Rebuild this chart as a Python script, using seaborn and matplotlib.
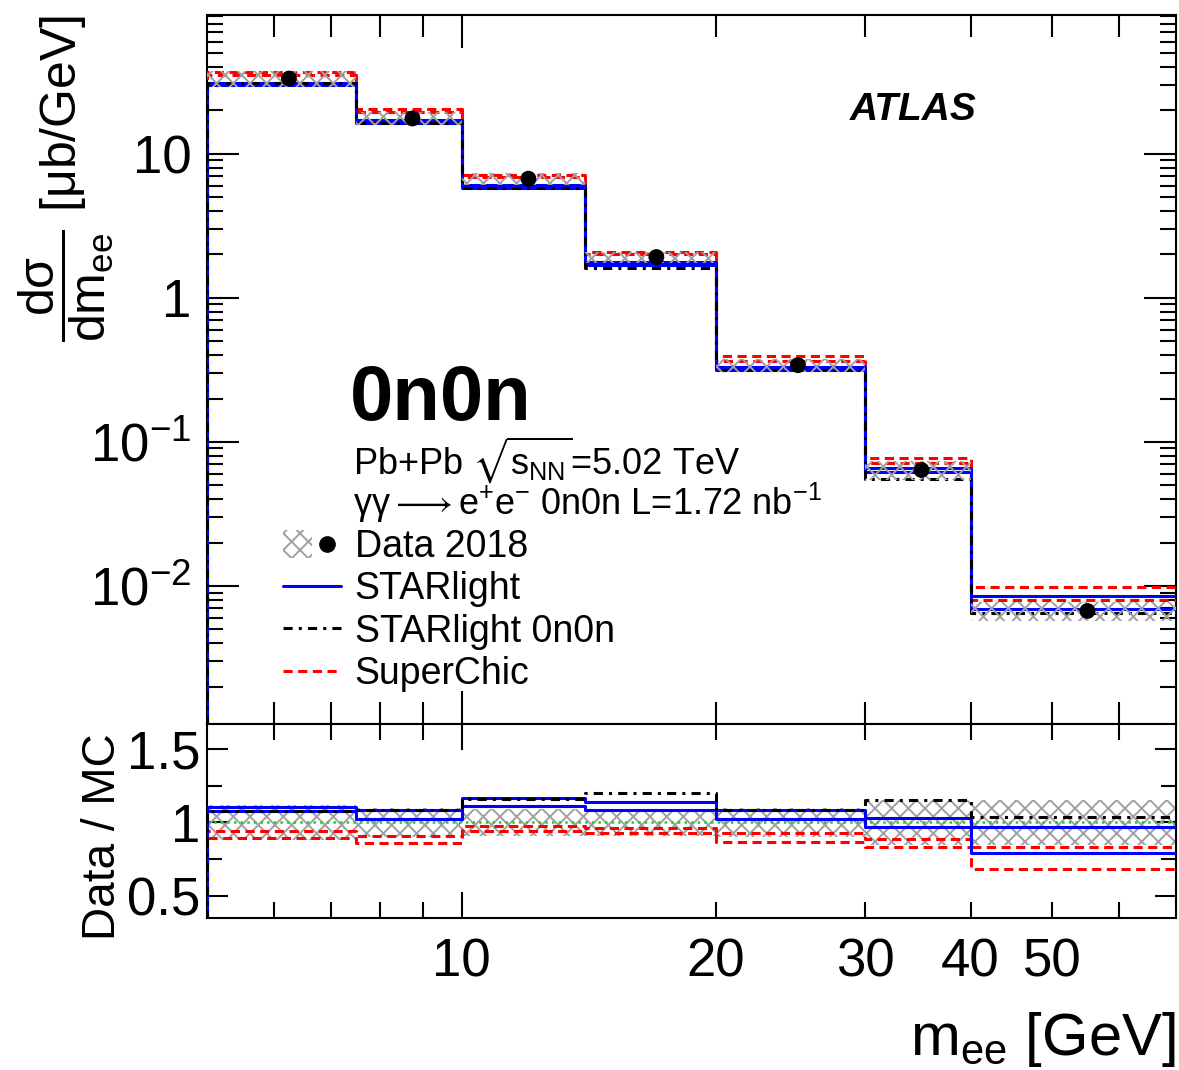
import numpy as np
import matplotlib
matplotlib.use("Agg")
import matplotlib.pyplot as plt
import seaborn as sns
from matplotlib.ticker import FixedLocator, FuncFormatter, NullFormatter
from matplotlib.patches import Patch
from matplotlib.lines import Line2D
from matplotlib.legend_handler import HandlerTuple

# ---------------- data ----------------
bin_edges = [5, 7.5, 10, 14, 20, 30, 40, 70]
x_tick_labels = [10, 20, 30, 40, 50]
data_xsec = [33.3, 17.6, 6.72, 1.92, 0.341, 0.0638, 0.0067]          # ub/GeV
data_rel_unc = [0.12, 0.10, 0.09, 0.09, 0.10, 0.15, 0.15]
starlight_low = [30.1, 16.27, 5.77, 1.69, 0.314, 0.0619, 0.00692]
starlight_high = [30.8, 17.2, 6.03, 1.77, 0.333, 0.0656, 0.00848]
starlight_0n0n = [30.8, 16.27, 5.79, 1.60, 0.314, 0.0555, 0.00644]
superchic_low = [35.3, 19.4, 6.88, 2.00, 0.367, 0.0719, 0.00801]
superchic_high = [37.2, 20.4, 7.13, 2.07, 0.393, 0.0767, 0.00985]

sns.set_style("ticks")
plt.rcParams["font.family"] = ["Liberation Sans", "DejaVu Sans"]
plt.rcParams["mathtext.fontset"] = "custom"
plt.rcParams["mathtext.rm"] = "Liberation Sans"
plt.rcParams["mathtext.it"] = "Liberation Sans"
plt.rcParams["mathtext.bf"] = "Liberation Sans:bold"
plt.rcParams["mathtext.fallback"] = "stixsans"
plt.rcParams["hatch.linewidth"] = 1.4
plt.rcParams["axes.linewidth"] = 1.5
for k in ("text.color", "axes.labelcolor", "xtick.color", "ytick.color",
          "axes.edgecolor"):
    plt.rcParams[k] = "black"

W, H = 1179, 1070
fig = plt.figure(figsize=(W / 100, H / 100), dpi=100)

def fx(px):
    return px / W

def fy(py):
    return 1 - py / H

L, R = 207, 1176
ax = fig.add_axes([fx(L), fy(724), fx(R - L), (724 - 15) / H])
axr = fig.add_axes([fx(L), fy(918), fx(R - L), (918 - 724) / H], sharex=ax)

edges = np.array(bin_edges, dtype=float)
centers = 0.5 * (edges[:-1] + edges[1:])
d = np.array(data_xsec)
u = np.array(data_rel_unc)

BLUE = "#0000ff"
RED = "#ff0000"
HATCH_C = "#a0a0a0"
red_ls = (0, (3.0, 1.8))
dd_ls = (0, (3.0, 2.0, 1.0, 2.0))
LW = 2.2

for a in (ax, axr):
    a.set_xscale("log")
    a.set_xlim(5, 70)

ax.set_yscale("log")
ax.set_ylim(1.1e-3, 92)
axr.set_ylim(0.35, 1.67)


def step_xy(vals, floor):
    vals = np.asarray(vals, dtype=float)
    x = np.r_[edges[0], edges]
    y = np.r_[floor, vals, vals[-1]]
    return x, y


def draw_steps(a, vals, floor, color, ls, z=3):
    x, y = step_xy(vals, floor)
    sns.lineplot(x=x, y=y, ax=a, estimator=None, sort=False, color=color,
                 linestyle=ls, linewidth=LW, drawstyle="steps-post",
                 legend=False, zorder=z)


# ---------------- main panel ----------------
hx = edges
band_lo = np.r_[d * (1 - u), d[-1] * (1 - u[-1])]
band_hi = np.r_[d * (1 + u), d[-1] * (1 + u[-1])]

for vals in (superchic_low, superchic_high):
    draw_steps(ax, vals, 1e-5, RED, red_ls)
for vals in (starlight_low, starlight_high):
    draw_steps(ax, vals, 1e-5, BLUE, "-")
draw_steps(ax, starlight_0n0n, 1e-5, "black", dd_ls)

ax.fill_between(hx, band_lo, band_hi, step="post", facecolor="none",
                edgecolor=HATCH_C, hatch="xx", linewidth=0, zorder=3.5)
sns.scatterplot(x=centers, y=d, ax=ax, color="black", s=130,
                edgecolor="none", zorder=6, legend=False)

# ---------------- ratio panel ----------------
axr.fill_between(hx, np.r_[1 - u, 1 - u[-1]], np.r_[1 + u, 1 + u[-1]],
                 step="post", facecolor="none", edgecolor=HATCH_C,
                 hatch="xx", linewidth=0, zorder=2)
sns.lineplot(x=[5, 70], y=[1, 1], ax=axr, color="#22cc22", linestyle=":",
             linewidth=1.8, estimator=None, legend=False, zorder=2.5)
for vals in (superchic_low, superchic_high):
    draw_steps(axr, d / np.array(vals), 0, RED, red_ls)
for vals in (starlight_low, starlight_high):
    draw_steps(axr, d / np.array(vals), 0, BLUE, "-")
draw_steps(axr, d / np.array(starlight_0n0n), 0, "black", dd_ls)

# ---------------- ticks ----------------
TFS = 38
for a in (ax, axr):
    a.xaxis.set_major_locator(FixedLocator([10]))
    a.xaxis.set_minor_locator(FixedLocator([6, 7, 8, 9, 20, 30, 40, 50, 60]))
    a.tick_params(which="both", direction="in", top=True, right=True,
                  width=1.5, labelsize=TFS, color="black", labelcolor="black")

ax.tick_params(axis="x", which="major", length=24)
ax.tick_params(axis="x", which="minor", length=16)
ax.tick_params(axis="x", which="both", labelbottom=False)
axr.tick_params(axis="x", which="major", length=19, pad=14)
axr.tick_params(axis="x", which="minor", length=11.5, pad=14)
axr.xaxis.set_major_formatter(FuncFormatter(lambda v, p: f"{v:g}"))
axr.xaxis.set_minor_formatter(
    FuncFormatter(lambda v, p: f"{v:g}" if round(v) in x_tick_labels else ""))

ax.yaxis.set_major_locator(FixedLocator([1e-3, 1e-2, 1e-1, 1, 10, 100]))
minors = [m * 10.0 ** e for e in range(-3, 2) for m in range(2, 10)]
ax.yaxis.set_minor_locator(FixedLocator(minors))
ax.yaxis.set_minor_formatter(NullFormatter())
ylab_map = {1e-3: r"$10^{-3}$", 1e-2: r"$10^{-2}$", 1e-1: r"$10^{-1}$",
            1: "1", 10: "10", 100: "100"}


def yfmt(v, p):
    for k, s in ylab_map.items():
        if abs(v - k) / k < 1e-6:
            return s
    return ""


ax.yaxis.set_major_formatter(FuncFormatter(yfmt))
ax.tick_params(axis="y", which="major", length=23, pad=11)
ax.tick_params(axis="y", which="minor", length=11.5)

axr.yaxis.set_major_locator(FixedLocator([0.5, 1.0, 1.5]))
axr.yaxis.set_minor_locator(FixedLocator([0.75, 1.25]))
axr.yaxis.set_major_formatter(FuncFormatter(lambda v, p: f"{v:g}"))
axr.tick_params(axis="y", which="major", length=15, pad=5)
axr.tick_params(axis="y", which="minor", length=11)

for a in (ax, axr):
    a.set_xlabel("")
    a.set_ylabel("")
    for s in a.spines.values():
        s.set_linewidth(1.5)
        s.set_color("black")
        s.set_visible(True)

# ---------------- texts ----------------
fig.text(fx(66), fy(15),
         r"$\dfrac{\mathrm{d\sigma}}{\mathrm{dm_{ee}}}$ [μb/GeV]",
         rotation=90, ha="center", va="top", fontsize=36)
fig.text(fx(103), fy(837), "Data / MC", rotation=90, ha="center",
         va="center", fontsize=33)
fig.text(fx(1176), fy(1055), r"m$_{\mathrm{ee}}$ [GeV]", ha="right",
         va="baseline", fontsize=43)

fig.text(fx(850), fy(120), "ATLAS", fontsize=28, fontweight="bold",
         fontstyle="italic", va="baseline", ha="left")
fig.text(fx(350), fy(420), "0n0n", fontsize=56, fontweight="bold",
         va="baseline", ha="left")
fig.text(fx(353), fy(474), r"Pb+Pb $\sqrt{s_{\mathrm{NN}}}$=5.02 TeV",
         fontsize=26, va="baseline", ha="left")
fig.text(fx(353), fy(515),
         r"γγ$\longrightarrow$e$^{+}$e$^{-}$ 0n0n L=1.72 nb$^{-1}$",
         fontsize=26, va="baseline", ha="left")

# ---------------- legend ----------------
h_data = (Patch(facecolor="none", edgecolor=HATCH_C, hatch="xx", linewidth=0),
          Line2D([], [], color="black", marker="o", markersize=11,
                 linestyle="none"))
h_sl = Line2D([], [], color=BLUE, linewidth=LW)
h_sl0 = Line2D([], [], color="black", linewidth=LW, linestyle=dd_ls)
h_sc = Line2D([], [], color=RED, linewidth=LW, linestyle=red_ls)
leg = fig.legend([h_data, h_sl, h_sl0, h_sc],
                 ["Data 2018", "STARlight", "STARlight 0n0n", "SuperChic"],
                 handler_map={tuple: HandlerTuple(ndivide=None)},
                 loc="upper left", bbox_to_anchor=(fx(283), fy(529)),
                 bbox_transform=fig.transFigure, frameon=False, fontsize=27,
                 borderpad=0, borderaxespad=0, handlelength=1.55,
                 handleheight=0.75, handletextpad=0.36, labelspacing=0.17)

fig.savefig("out.png", dpi=100)
